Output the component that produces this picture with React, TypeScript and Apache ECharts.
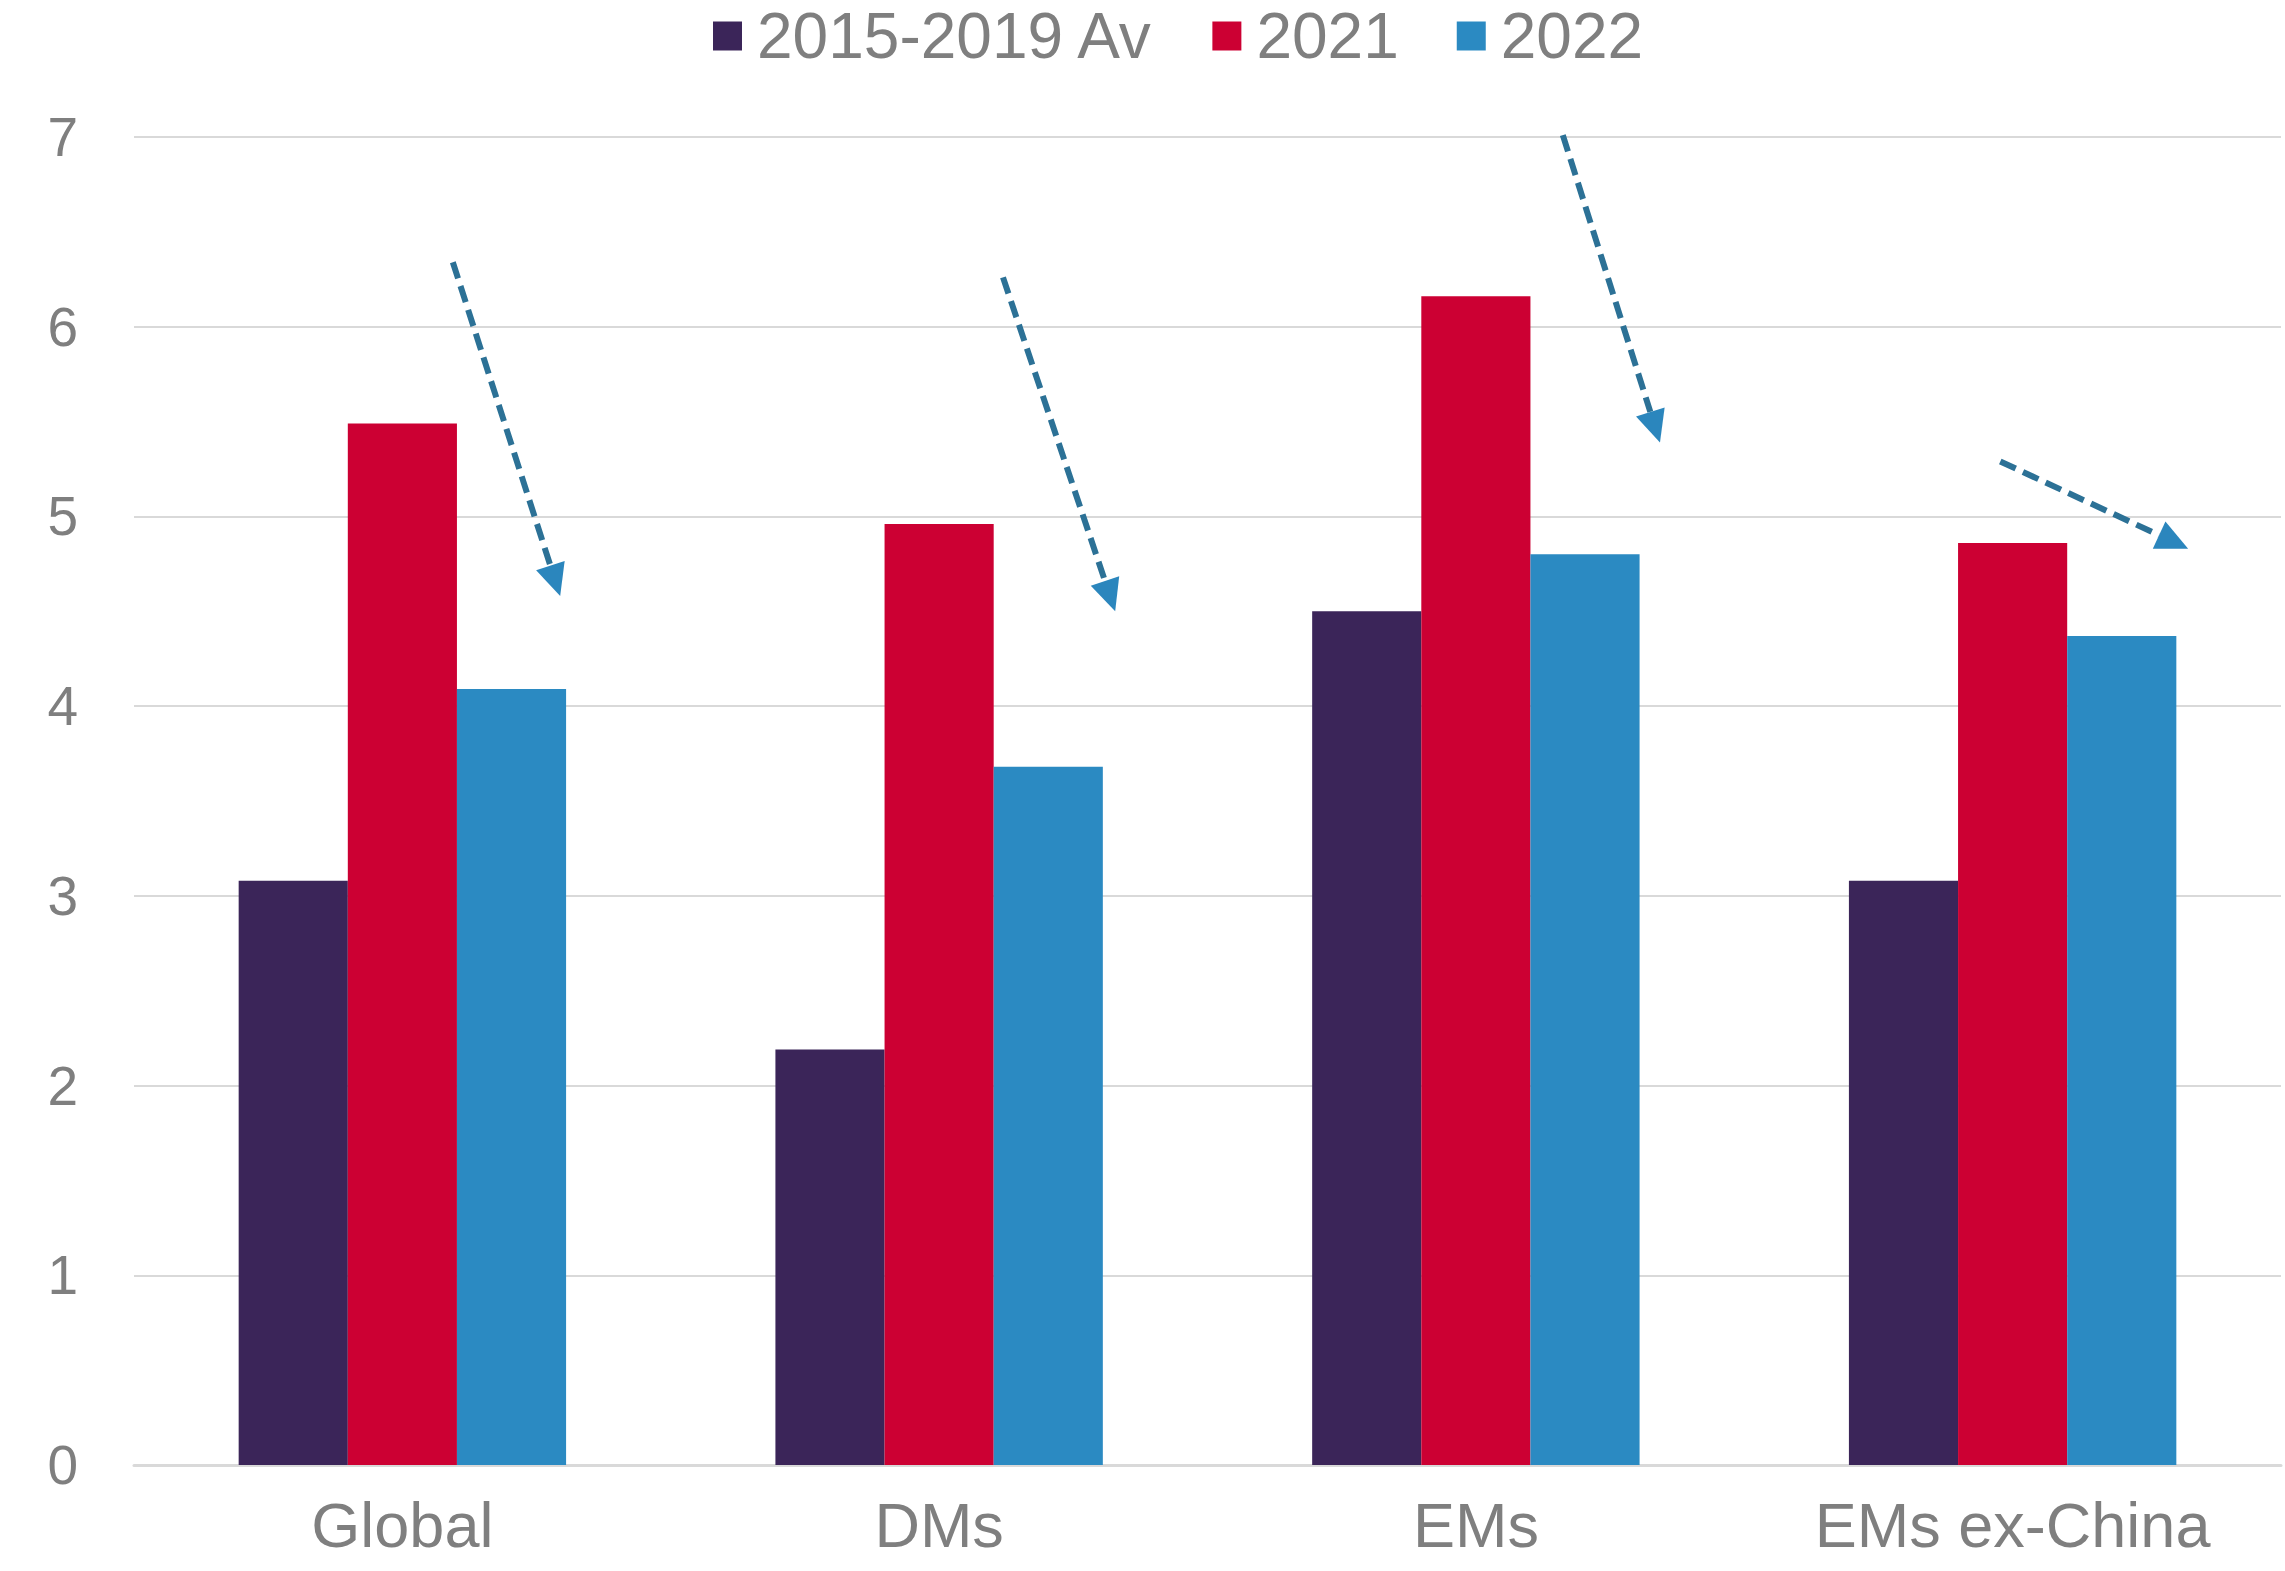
import React, { useEffect, useRef } from "react";
import * as echarts from "echarts";

const categories = ["Global", "DMs", "EMs", "EMs ex-China"];
const seriesNames = ["2015-2019 Av", "2021", "2022"];
const avg2015_2019 = [3.08, 2.19, 4.5, 3.08];
const y2021 = [5.49, 4.96, 6.16, 4.86];
const y2022 = [4.09, 3.68, 4.8, 4.37];
const yTicks = [0, 1, 2, 3, 4, 5, 6, 7];
// arrows: [xStart, yStart, xEnd, yEnd] in (category units, value units)
const arrows = [
  [0.594, 6.34, 0.794, 4.58],
  [1.619, 6.26, 1.828, 4.5],
  [2.662, 7.01, 2.843, 5.39],
  [3.477, 5.29, 3.827, 4.83],
];
const colors = ["#3B2559", "#CC0033", "#2B8AC2"];

export default function App() {
  const ref = useRef<HTMLDivElement>(null);
  useEffect(() => {
    const chart = echarts.init(ref.current!, null, { renderer: "svg" });
    const font = "'Liberation Sans', Arial, sans-serif";
    chart.setOption({
      animation: false,
      backgroundColor: "#ffffff",
      textStyle: { fontFamily: font },
      legend: {
        top: -1,
        left: 708,
        icon: "rect",
        itemWidth: 29,
        itemHeight: 29,
        itemGap: 58,
        data: seriesNames,
        textStyle: { color: "#7f7f7f", fontSize: 64, fontFamily: font, padding: [0, 0, 0, 10] },
      },
      grid: { left: 134, right: 4, top: 137, bottom: 1571 - 1465, containLabel: false },
      xAxis: [
        {
          type: "category",
          data: categories,
          axisTick: { show: false },
          axisLine: { lineStyle: { color: "#d9d9d9", width: 3 } },
          axisLabel: { color: "#7f7f7f", fontSize: 63, fontFamily: font, margin: 28 },
        },
        { type: "value", min: 0, max: 4, show: false },
      ],
      yAxis: {
        type: "value",
        min: 0,
        max: yTicks[yTicks.length - 1],
        interval: 1,
        axisLine: { show: false },
        axisTick: { show: false },
        splitLine: { lineStyle: { color: "#d9d9d9", width: 2 } },
        axisLabel: { color: "#7f7f7f", fontSize: 55, fontFamily: font, margin: 56 },
      },
      series: [
        ...[avg2015_2019, y2021, y2022].map((d, i) => ({
          name: seriesNames[i],
          type: "bar",
          data: d,
          xAxisIndex: 0,
          barGap: "0%",
          barCategoryGap: "39%",
          itemStyle: { color: colors[i] },
        })),
        {
          type: "custom",
          xAxisIndex: 1,
          yAxisIndex: 0,
          clip: false,
          silent: true,
          data: arrows,
          renderItem: (params: any, api: any) => {
            const p1 = api.coord([api.value(0), api.value(1)]);
            const p2 = api.coord([api.value(2), api.value(3)]);
            const dx = p2[0] - p1[0];
            const dy = p2[1] - p1[1];
            const len = Math.sqrt(dx * dx + dy * dy);
            const ux = dx / len;
            const uy = dy / len;
            const headLen = 32;
            const headW = 15;
            const bx = p2[0] - ux * headLen;
            const by = p2[1] - uy * headLen;
            return {
              type: "group",
              children: [
                {
                  type: "line",
                  shape: { x1: p1[0], y1: p1[1], x2: bx, y2: by },
                  style: { stroke: "#2C7196", lineWidth: 6, lineDash: [17, 8] },
                },
                {
                  type: "polygon",
                  shape: {
                    points: [
                      [p2[0], p2[1]],
                      [bx - uy * headW, by + ux * headW],
                      [bx + uy * headW, by - ux * headW],
                    ],
                  },
                  style: { fill: "#2B86BD" },
                },
              ],
            };
          },
        },
      ],
    });
    return () => chart.dispose();
  }, []);
  return (
    <div
      ref={ref}
      style={{ position: "absolute", left: 0, top: 0, width: 2285, height: 1571 }}
    />
  );
}
